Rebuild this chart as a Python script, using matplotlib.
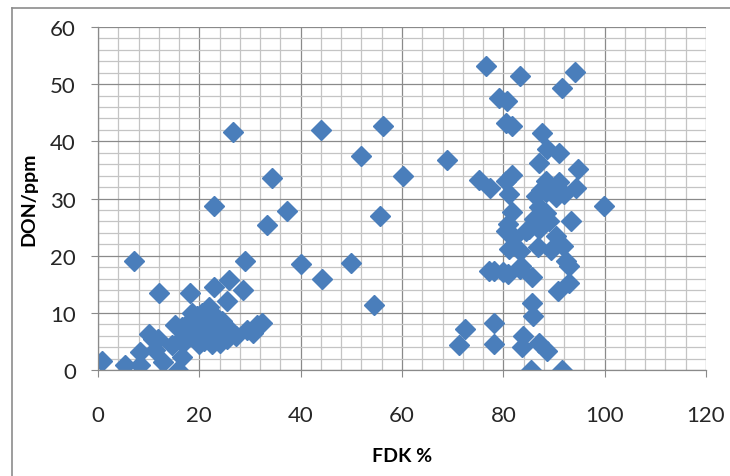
import numpy as np
import matplotlib
matplotlib.use('Agg')
import matplotlib.pyplot as plt
from matplotlib.lines import Line2D
from matplotlib.ticker import MultipleLocator

# --- dados (FDK %, DON ppm) ---
fdk_esq = [0.7, 5.3, 8.3, 8.3, 10.1, 11.9, 11.2, 12.9, 14.6, 16.6, 15.8, 15.2, 16.8,
           7.1, 12.0, 18.1, 22.9, 33.3, 37.3, 29.0, 40.1, 44.3, 49.9, 54.4, 55.7, 34.4,
           22.8, 25.8, 25.5, 28.7, 27.3, 29.5, 30.5, 31.3, 32.3, 26.6, 44.1, 51.9, 56.3,
           60.2, 68.8, 10.8]
don_esq = [1.5, 0.9, 0.8, 3.2, 6.3, 5.4, 3.5, 1.4, 4.3, 2.2, 0.0, 7.8, 4.8,
           19.1, 13.5, 13.5, 28.7, 25.4, 27.8, 19.1, 18.6, 15.9, 18.7, 11.4, 27.0, 33.5,
           14.6, 15.8, 12.0, 14.0, 6.0, 7.0, 6.5, 7.8, 8.3, 41.6, 42.0, 37.5, 42.6,
           33.9, 36.8, 5.4]

fdk_aglom = [16.5, 17.5, 18.0, 18.5, 19.0, 19.5, 19.5, 20.0, 20.0, 20.5, 21.0, 21.0,
             21.5, 22.0, 22.0, 22.5, 23.0, 23.0, 23.5, 24.0, 24.5, 25.0, 25.5, 26.0,
             17.0, 18.5, 20.0, 22.5, 24.0]
don_aglom = [7.5, 8.0, 6.5, 8.8, 7.0, 9.5, 5.5, 6.5, 8.0, 10.0, 7.5, 5.0,
             9.0, 6.0, 11.0, 8.0, 6.5, 9.5, 5.5, 7.0, 8.5, 6.5, 5.5, 7.0,
             6.0, 10.0, 4.5, 4.5, 4.8]

fdk_dir = [76.6, 83.3, 94.1, 91.6, 79.1, 80.8, 80.5, 81.8, 87.6, 88.7, 90.9, 87.1, 94.8,
           75.1, 77.4, 81.8, 80.5, 81.2, 88.4, 89.5, 91.0, 87.5, 94.4, 99.9, 93.3,
           81.8, 89.1, 87.1, 86.4, 88.4, 90.4, 92.0, 80.5, 82.2, 85.1, 87.1, 90.4,
           91.7, 86.8, 81.2, 83.2, 92.4, 93.0, 78.2, 80.9, 83.5, 85.7, 93.0, 90.7,
           85.7, 85.8, 72.5, 78.2, 71.2, 78.1, 83.9, 83.7, 87.1, 88.7, 85.5, 91.6,
           77.2, 79.9, 83.2, 84.5, 81.0, 88.5, 86.0, 89.5]
don_dir = [53.2, 51.5, 52.2, 49.3, 47.5, 47.1, 43.2, 42.6, 41.4, 38.7, 38.0, 36.2, 35.2,
           33.3, 31.9, 34.1, 33.1, 30.8, 33.1, 32.0, 32.8, 31.5, 31.9, 28.7, 26.1,
           27.6, 26.1, 28.5, 30.5, 31.1, 30.2, 30.8, 24.4, 23.2, 24.7, 24.7, 23.5,
           21.7, 21.5, 21.2, 20.9, 19.1, 18.2, 17.4, 16.8, 18.2, 16.2, 15.3, 13.9,
           11.7, 9.5, 7.2, 8.3, 4.3, 4.5, 6.0, 4.0, 4.8, 3.4, 0.0, 0.0,
           17.4, 17.1, 17.7, 24.4, 25.5, 27.5, 26.5, 21.0]

fdk = fdk_esq + fdk_aglom + fdk_dir
don = don_esq + don_aglom + don_dir

plt.rcParams['font.family'] = ['Lato', 'DejaVu Sans']

fig = plt.figure(figsize=(7.30, 4.77), dpi=100)
ax = fig.add_axes([98/730, 1 - 371/477, 608/730, 343/477])

ax.plot(fdk, don, linestyle='none', marker='D', markersize=10,
        color='#4a7ebb', markeredgecolor='#4a7ebb')

ax.set_xlim(0, 120)
ax.set_ylim(0, 60)
ax.xaxis.set_major_locator(MultipleLocator(20))
ax.xaxis.set_minor_locator(MultipleLocator(4))
ax.yaxis.set_major_locator(MultipleLocator(10))
ax.yaxis.set_minor_locator(MultipleLocator(2))

ax.grid(True, which='minor', color='#c4c4c4', linewidth=0.9)
ax.grid(True, which='major', color='#8a8a8a', linewidth=0.9)
ax.set_axisbelow(True)

for lado in ['top', 'right']:
    ax.spines[lado].set_visible(False)
for lado in ['left', 'bottom']:
    ax.spines[lado].set_color('#8a8a8a')
    ax.spines[lado].set_linewidth(0.9)

ax.tick_params(which='minor', length=0)
ax.tick_params(which='major', length=5, color='#8a8a8a', labelsize=16,
               labelcolor='#262626')
ax.tick_params(axis='x', pad=20)
ax.tick_params(axis='y', pad=11)

ax.set_xlabel('FDK %', fontsize=14, fontweight='bold', labelpad=16)
ax.set_ylabel('DON/ppm', fontsize=14, fontweight='bold', labelpad=9)

# moldura do gráfico (borda esquerda e superior)
fig.add_artist(Line2D([12/730, 12/730], [0, 1 - 9/477], color='#8c8c8c', linewidth=1.2))
fig.add_artist(Line2D([12/730, 1], [1 - 9/477, 1 - 9/477], color='#8c8c8c', linewidth=1.2))

fig.savefig('out.png', dpi=100)
